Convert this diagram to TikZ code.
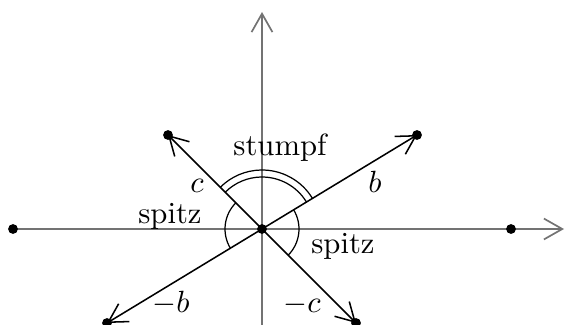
\documentclass[tikz,border=0pt]{standalone}
\usetikzlibrary{arrows.meta}
\begin{document}
\begin{tikzpicture}[x=0.326pt,y=0.326pt,
  axis/.style={draw=black!55,line width=0.55pt,-{Straight Barb[length=6pt,width=6.8pt]}},
  vec/.style={draw=black,line width=0.5pt,-{Straight Barb[length=6pt,width=6.8pt]}},
  arcline/.style={draw=black,line width=0.4pt},
  dot/.style={circle,fill=black,inner sep=0pt,minimum size=3.2pt},
  lab/.style={inner sep=0pt,anchor=base,font=\normalsize}]
\useasboundingbox (-262,-95) rectangle (305,229);
% points
\coordinate (O) at (0,0);
\coordinate (B) at (155,94);
\coordinate (C) at (-94,94);
\coordinate (mB) at (-155,-94);
\coordinate (mC) at (94,-94);
\coordinate (BC) at (249,0);
\coordinate (CB) at (-249,0);
\coordinate (Xend) at (302,0);
\coordinate (Ybot) at (0,-110);
\coordinate (Yend) at (0,217);
% axes
\draw[axis] (CB) -- (Xend);
\draw[axis] (Ybot) -- (Yend);
% angle arcs
\draw[arcline] (O) ++(135:37) arc[start angle=135,end angle=211.2,radius=37];
\draw[arcline] (O) ++(31.2:37) arc[start angle=31.2,end angle=-45,radius=37];
\draw[arcline] (O) ++(31.2:52) arc[start angle=31.2,end angle=135,radius=52];
\draw[arcline] (O) ++(31.2:59) arc[start angle=31.2,end angle=135,radius=59];
% vectors
\draw[vec] (O) -- (B);
\draw[vec] (O) -- (C);
\draw[vec] (O) -- (mB);
\draw[vec] (O) -- (mC);
% dots
\node[dot] (dO) at (O) {};
\node[dot] (dB) at (B) {};
\node[dot] (dC) at (C) {};
\node[dot] (dmB) at (mB) {};
\node[dot] (dmC) at (mC) {};
\node[dot] (dBC) at (BC) {};
\node[dot] (dCB) at (CB) {};
% labels
\node[lab] (lstumpf) at (18,74) {stumpf};
\node[lab] (lspitzL) at (-92,6) {spitz};
\node[lab] (lspitzR) at (81,-24) {spitz};
\node[lab] (lc) at (-65,37) {$c$};
\node[lab] (lb) at (113,37) {$b$};
\node[lab] (lmb) at (-91,-83) {$-b$};
\node[lab] (lmc) at (40,-83) {$-c$};
\end{tikzpicture}
\end{document}
